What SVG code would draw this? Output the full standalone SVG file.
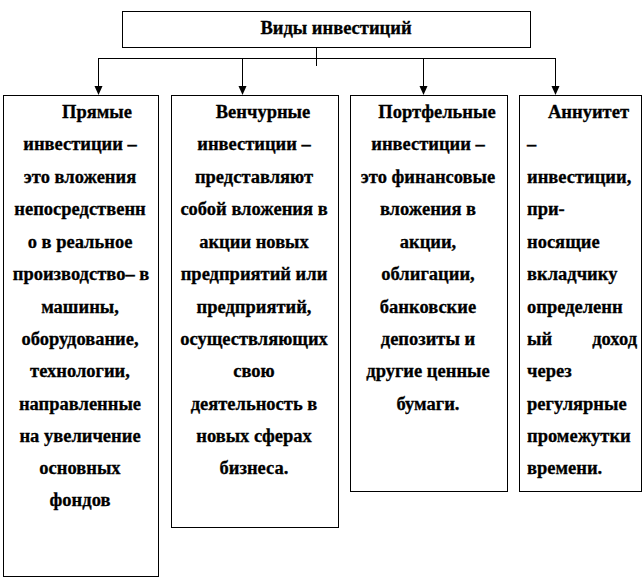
<svg xmlns="http://www.w3.org/2000/svg" width="644" height="585" viewBox="0 0 644 585">
<style>
.box{fill:#fff;stroke:#000;stroke-width:1}
.c{text-anchor:middle}
.ln{stroke:#000;stroke-width:1;fill:none}
.ah{fill:#000;stroke:none}
.txt{font-family:"Liberation Serif","Times New Roman",serif;font-weight:bold;font-size:18.5px;fill:#000;stroke:#000;stroke-width:0.3}
</style>
<rect width="644" height="585" fill="#fff"/>
<g id="connectors">
<path class="ln" d="M316.5,47 V66"/>
<path class="ln" d="M98,58.5 H556"/>
<path class="ln" d="M98.5,58 V88"/>
<path class="ln" d="M242.5,58 V88"/>
<path class="ln" d="M423.5,58 V88"/>
<path class="ln" d="M555.5,58 V88"/>
<polygon class="ah" points="94.5,86 102.5,86 98.5,95"/>
<polygon class="ah" points="238.5,86 246.5,86 242.5,95"/>
<polygon class="ah" points="419.5,86 427.5,86 423.5,95"/>
<polygon class="ah" points="551.5,86 559.5,86 555.5,95"/>
</g>
<g class="txt">
<g id="root">
<rect class="box" x="122.5" y="11.5" width="408" height="36"/>
<text class="c" x="336" y="34">Виды инвестиций</text>
</g>
<g id="direct">
<rect class="box" x="3.5" y="95.5" width="155" height="481"/>
<text class="c" x="97" y="118">Прямые</text>
<text class="c" x="80" y="150">инвестиции –</text>
<text class="c" x="80" y="183">это вложения</text>
<text class="c" x="80" y="215">непосредственн</text>
<text class="c" x="80" y="248">о в реальное</text>
<text class="c" x="81" y="280">производство– в</text>
<text class="c" x="80" y="313">машины,</text>
<text class="c" x="80" y="345">оборудование,</text>
<text class="c" x="80" y="377">технологии,</text>
<text class="c" x="80" y="410">направленные</text>
<text class="c" x="80" y="442">на увеличение</text>
<text class="c" x="80" y="474">основных</text>
<text class="c" x="80" y="506">фондов</text>
</g>
<g id="venture">
<rect class="box" x="171.5" y="95.5" width="167" height="432"/>
<text class="c" x="263" y="118">Венчурные</text>
<text class="c" x="254" y="150">инвестиции –</text>
<text class="c" x="254" y="183">представляют</text>
<text class="c" x="254" y="215">собой вложения в</text>
<text class="c" x="254" y="248">акции новых</text>
<text class="c" x="254" y="280">предприятий или</text>
<text class="c" x="254" y="313">предприятий,</text>
<text class="c" x="254" y="345">осуществляющих</text>
<text class="c" x="254" y="377">свою</text>
<text class="c" x="254" y="410">деятельность в</text>
<text class="c" x="254" y="442">новых сферах</text>
<text class="c" x="254" y="474">бизнеса.</text>
</g>
<g id="portfolio">
<rect class="box" x="350.5" y="95.5" width="157" height="396"/>
<text class="c" x="437" y="118">Портфельные</text>
<text class="c" x="428" y="150">инвестиции –</text>
<text class="c" x="428" y="183">это финансовые</text>
<text class="c" x="428" y="215">вложения в</text>
<text class="c" x="428" y="248">акции,</text>
<text class="c" x="428" y="280">облигации,</text>
<text class="c" x="428" y="313">банковские</text>
<text class="c" x="428" y="345">депозиты и</text>
<text class="c" x="428" y="377">другие ценные</text>
<text class="c" x="428" y="410">бумаги.</text>
</g>
<g id="annuity">
<rect class="box" x="519.5" y="95.5" width="122" height="396"/>
<text x="548" y="118">Аннуитет</text>
<text x="527" y="150">–</text>
<text x="527" y="183">инвестиции,</text>
<text x="527" y="215">при-</text>
<text x="527" y="248">носящие</text>
<text x="527" y="280">вкладчику</text>
<text x="527" y="313">определенн</text>
<text x="527" y="345">ый</text>
<text x="637" y="345" text-anchor="end">доход</text>
<text x="527" y="377">через</text>
<text x="527" y="410">регулярные</text>
<text x="527" y="442">промежутки</text>
<text x="527" y="474">времени.</text>
</g>
</g>
</svg>
